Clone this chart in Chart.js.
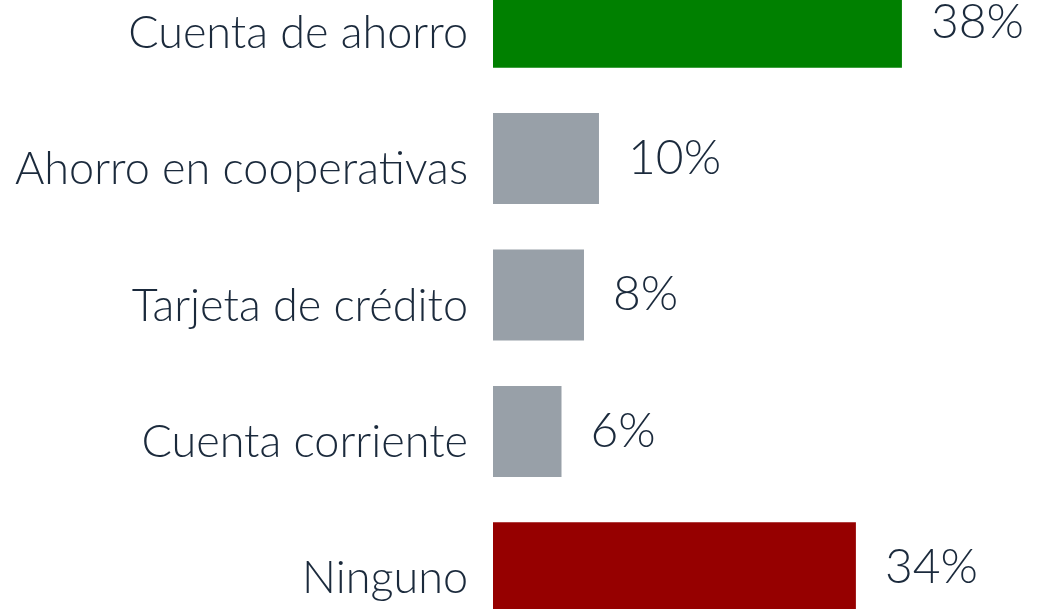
<!DOCTYPE html>
<html>
<head>
<meta charset="utf-8">
<script src="https://cdn.jsdelivr.net/npm/chart.js@4"></script>
<style>
  html, body { margin: 0; padding: 0; background: #ffffff; overflow: hidden; width: 1055px; height: 609px; }
  #c { position: absolute; left: 0; top: -46px; }
</style>
</head>
<body>
<canvas id="c" width="1055" height="682"></canvas>
<script>
const categories = ["Cuenta de ahorro", "Ahorro en cooperativas", "Tarjeta de crédito", "Cuenta corriente", "Ninguno"];
const values = [38.2, 9.9, 8.5, 6.4, 33.9];
const valueLabels = ["38%", "10%", "8%", "6%", "34%"];
const barColors = ["#008000", "#98a0a8", "#98a0a8", "#98a0a8", "#960000"];

const TEXT = "#1b2a3c";
const FONT_FAMILY = "Lato, 'Open Sans', sans-serif";

const valueLabelPlugin = {
  id: "valueLabels",
  afterDatasetsDraw(chart) {
    const ctx = chart.ctx;
    const meta = chart.getDatasetMeta(0);
    ctx.save();
    ctx.fillStyle = TEXT;
    ctx.font = "300 48px " + FONT_FAMILY;
    ctx.textAlign = "left";
    ctx.textBaseline = "middle";
    meta.data.forEach((bar, i) => {
      ctx.fillText(valueLabels[i], bar.x + 29, bar.y);
    });
    ctx.restore();
  }
};

new Chart(document.getElementById("c"), {
  type: "bar",
  data: {
    labels: categories,
    datasets: [{
      data: values,
      backgroundColor: barColors,
      borderWidth: 0,
      barPercentage: 0.667,
      categoryPercentage: 1.0
    }]
  },
  options: {
    indexAxis: "y",
    responsive: false,
    animation: false,
    devicePixelRatio: 1,
    layout: { padding: 0 },
    plugins: { legend: { display: false }, tooltip: { enabled: false } },
    scales: {
      x: {
        display: false,
        min: 0,
        max: 52.5
      },
      y: {
        grid: { display: false, drawTicks: false },
        border: { display: false },
        afterFit(scale) {
          scale.width = 493;
          scale.paddingTop = 0;
          scale.paddingBottom = 0;
        },
        ticks: {
          color: TEXT,
          padding: 25,
          labelOffset: 11,
          font: { family: FONT_FAMILY, size: 45, weight: 300 }
        }
      }
    }
  },
  plugins: [valueLabelPlugin]
});
</script>
</body>
</html>
